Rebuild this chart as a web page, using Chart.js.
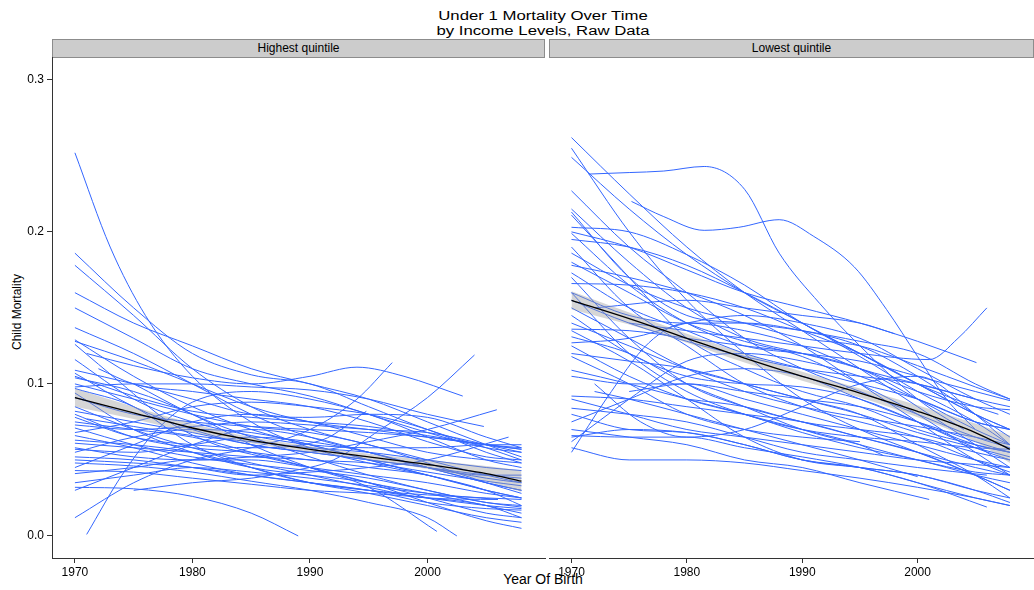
<!DOCTYPE html>
<html>
<head>
<meta charset="utf-8">
<script src="https://cdn.jsdelivr.net/npm/chart.js@4/dist/chart.umd.min.js"></script>
<style>
  html,body{margin:0;padding:0;background:#fff;}
  body{width:1034px;height:590px;position:relative;overflow:hidden;font-family:"Liberation Sans",Arial,sans-serif;color:#000;}
  .abs{position:absolute;}
  .title{left:343px;width:400px;text-align:center;font-size:12.5px;line-height:15px;transform:scaleX(1.34);transform-origin:50% 50%;white-space:nowrap;}
  .strip{top:39px;height:17px;background:#cccccc;border:1px solid #8c8c8c;box-sizing:content-box;text-align:center;font-size:12px;line-height:17px;}
  canvas{position:absolute;top:0;}
  .gap{position:absolute;left:545px;width:4px;top:57px;height:499px;background:#fff;z-index:5;}
</style>
</head>
<body>
<div class="abs title" style="top:9px;">Under 1 Mortality Over Time</div>
<div class="abs title" style="top:24px;">by Income Levels, Raw Data</div>
<div class="abs strip" style="left:52px;width:491px;">Highest quintile</div>
<div class="abs strip" style="left:549px;width:483px;">Lowest quintile</div>
<div class="abs" style="left:343px;width:400px;top:572px;text-align:center;font-size:14px;line-height:15px;">Year Of Birth</div>
<div class="abs" style="left:-33px;top:305px;width:100px;text-align:center;font-size:12px;line-height:14px;transform:rotate(-90deg);">Child Mortality</div>
<canvas id="cHigh" width="546" height="590" style="left:0;width:546px;height:590px;"></canvas>
<canvas id="cLow" width="488" height="590" style="left:546px;width:488px;height:590px;"></canvas>
<div class="gap"></div>
<script>
// ---- data ----
const panels = ["Highest quintile", "Lowest quintile"];
const xTicks = [1970, 1980, 1990, 2000];
const yTicks = [0.0, 0.1, 0.2, 0.3];

// raw country trajectories: [year, under-1 mortality]
const highestQuintile = [
  [[1970,.252],[1973,.19],[1976,.145],[1980,.105],[1985,.075],[1990,.058],[1995,.048],[2000,.04]],
  [[1970,.186],[1975,.15],[1980,.12],[1985,.106],[1990,.1],[1995,.085],[2000,.07],[2005,.058],[2008,.05]],
  [[1970,.178],[1975,.145],[1980,.11],[1985,.085],[1990,.07],[1995,.06],[2000,.05],[2005,.04],[2008,.035]],
  [[1970,.160],[1975,.14],[1980,.125],[1985,.11],[1990,.1],[1995,.09],[2000,.075],[2005,.06],[2008,.052]],
  [[1970,.150],[1975,.13],[1980,.11],[1985,.1],[1990,.092],[1995,.08],[2000,.068],[2005,.058],[2008,.055]],
  [[1970,.137],[1975,.12],[1980,.1],[1985,.08],[1990,.065],[1995,.055],[2000,.045],[2005,.035],[2008,.03]],
  [[1970,.129],[1975,.105],[1980,.085],[1985,.07],[1990,.06],[1995,.05],[2000,.04],[2005,.03],[2008,.025]],
  [[1970,.126],[1974,.1],[1978,.075],[1982,.06],[1986,.052],[1990,.045],[1995,.035],[2000,.028],[2005,.02],[2008,.015]],
  [[1971,.12],[1975,.112],[1980,.104],[1985,.1],[1990,.105],[1994,.111],[1998,.105],[2003,.092]],
  [[1970,.109],[1975,.1],[1980,.09],[1985,.08],[1990,.078],[1995,.08],[2000,.078],[2005,.065],[2008,.058]],
  [[1970,.107],[1975,.085],[1980,.07],[1985,.06],[1990,.055],[1995,.05],[2000,.045],[2005,.038],[2008,.035]],
  [[1970,.100],[1975,.09],[1980,.08],[1985,.072],[1990,.068],[1995,.06],[2000,.048],[2005,.035],[2008,.028]],
  [[1970,.094],[1975,.07],[1980,.055],[1985,.045],[1990,.04],[1995,.035],[2000,.025],[2005,.015],[2008,.012]],
  [[1970,.098],[1975,.1],[1980,.1],[1985,.098],[1990,.096],[1995,.09],[2000,.08],[2004.8,.072]],
  [[1970,.082],[1975,.075],[1980,.068],[1985,.06],[1990,.055],[1995,.05],[2000,.045],[2005,.04],[2008,.038]],
  [[1970,.073],[1975,.07],[1980,.072],[1985,.075],[1990,.073],[1995,.07],[2000,.068],[2005,.06],[2008,.055]],
  [[1970,.068],[1975,.075],[1980,.085],[1985,.088],[1990,.085],[1995,.08],[2000,.07],[2005,.055],[2008,.048]],
  [[1970,.061],[1975,.058],[1980,.055],[1985,.052],[1990,.05],[1995,.045],[2000,.04],[2005,.03],[2008,.025]],
  [[1970,.055],[1975,.065],[1980,.07],[1985,.068],[1990,.06],[1995,.05],[2000,.04],[2005,.03],[2008,.02]],
  [[1970,.050],[1975,.048],[1980,.045],[1985,.04],[1990,.035],[1995,.03],[2000,.025],[2005,.02],[2008,.018]],
  [[1970,.045],[1975,.06],[1980,.075],[1985,.08],[1990,.075],[1995,.065],[2000,.055],[2005,.05],[2008,.048]],
  [[1970,.041],[1975,.045],[1980,.05],[1985,.05],[1990,.045],[1995,.04],[2000,.035],[2005,.028],[2008,.025]],
  [[1970,.035],[1975,.04],[1980,.045],[1985,.042],[1990,.038],[1995,.033],[2000,.028],[2006,.024]],
  [[1970,.032],[1975,.031],[1980,.026],[1985,.015],[1989,.0]],
  [[1970,.012],[1975,.035],[1980,.05],[1985,.058],[1990,.07],[1994,.09],[1997,.114]],
  [[1971,.001],[1974,.04],[1977,.07],[1980,.088],[1985,.095],[1990,.09],[1995,.08],[2000,.065],[2005,.05],[2008,.045]],
  [[1975,.03],[1980,.035],[1985,.038],[1988,.042],[1992,.05],[1996,.07],[2000,.091],[2004,.119]],
  [[1970,.116],[1975,.09],[1980,.075],[1985,.066],[1990,.06],[1995,.058],[2000,.058],[2005,.06],[2008,.06]],
  [[1970,.078],[1975,.065],[1980,.06],[1985,.058],[1991,.063],[1994.8,.082]],
  [[1970,.058],[1975,.052],[1980,.05],[1985,.052],[1990,.055],[1995,.062],[2000,.07],[2005.9,.083]],
  [[1970,.052],[1975,.05],[1980,.045],[1985,.04],[1990,.042],[1995,.045],[2000,.05],[2006.9,.065]],
  [[1970,.085],[1975,.07],[1980,.058],[1985,.048],[1990,.04],[1995,.032],[2000,.025],[2006,.024]],
  [[1970,.063],[1975,.06],[1980,.055],[1985,.045],[1990,.035],[1995,.028],[2000,.02],[2005,.012],[2008,.009]],
  [[1970,.048],[1975,.046],[1980,.042],[1985,.036],[1990,.03],[1995,.022],[2000,.012],[2002.5,.0]],
  [[1970,.104],[1975,.095],[1980,.08],[1985,.06],[1990,.045],[1995,.032],[2000.8,.003]],
  [[1970,.075],[1975,.07],[1980,.065],[1985,.055],[1990,.045],[1995,.035],[2000,.022],[2005,.01],[2008,.005]],
  [[1970,.091],[1975,.08],[1980,.075],[1985,.072],[1990,.07],[1995,.068],[2000,.065],[2005,.06],[2008,.058]],
  [[1972,.11],[1975,.1],[1980,.095],[1985,.09],[1990,.085],[1995,.075],[2000,.062],[2005,.052],[2008,.05]],
  [[1970,.097],[1975,.085],[1980,.06],[1985,.045],[1990,.035],[1995,.03],[2000,.027],[2005,.025],[2008,.024]],
  [[1970,.057],[1975,.055],[1980,.06],[1985,.065],[1990,.062],[1995,.055],[2000,.045],[2005,.035],[2008,.03]],
  [[1970,.066],[1975,.058],[1980,.048],[1985,.04],[1990,.035],[1995,.03],[2000,.022],[2005,.018],[2008,.017]],
  [[1975,.1],[1980,.08],[1985,.065],[1990,.052],[1995,.04],[2000,.03],[2005,.022],[2008,.019]],
  [[1970,.043],[1975,.042],[1980,.038],[1985,.034],[1990,.03],[1995,.028],[2000,.025],[2005,.02],[2008,.012]],
  [[1970,.128],[1975,.115],[1980,.1],[1985,.085],[1990,.075],[1995,.07],[2000,.065],[2005,.06],[2008,.057]],
  [[1970,.080],[1975,.065],[1980,.058],[1985,.055],[1990,.05],[1995,.048],[2000,.042],[2005,.036],[2008,.033]],
  [[1970,.071],[1975,.06],[1980,.052],[1985,.047],[1990,.043],[1995,.038],[2000,.03],[2005,.022],[2008,.02]],
  [[1971,.077],[1975,.072],[1980,.066],[1985,.062],[1990,.058],[1995,.055],[2000,.05],[2005,.045],[2008,.043]],
  [[1970,.105],[1975,.092],[1980,.082],[1985,.078],[1990,.075],[1995,.072],[2000,.066],[2005,.06],[2008,.057]],
  [[1970,.03],[1975,.045],[1980,.06],[1985,.07],[1990,.065],[1995,.055],[2000,.045],[2005,.04],[2008,.04]]
];

const lowestQuintile = [
  [[1970,.262],[1975,.225],[1980,.19],[1985,.16],[1990,.135],[1995,.11],[2000,.085],[2005,.06],[2008,.045]],
  [[1970,.255],[1975,.2],[1980,.155],[1985,.12],[1990,.09],[1995,.07],[2000,.055],[2005,.04],[2008,.03]],
  [[1970,.249],[1975,.215],[1980,.185],[1985,.16],[1990,.14],[1995,.12],[2000,.1],[2005,.08],[2008,.07]],
  [[1971.5,.238],[1975,.239],[1978,.240],[1981.5,.243],[1985,.228],[1988,.186],[1991.5,.153],[1995,.125],[2000,.09],[2004,.07]],
  [[1975.2,.22],[1978,.21],[1981.5,.201],[1984.5,.203],[1988,.208],[1991,.197],[1994.5,.177],[1997.3,.149],[2000,.118],[2002.5,.09],[2005,.07]],
  [[1970,.227],[1975,.19],[1980,.16],[1985,.13],[1990,.11],[1995,.095],[2000,.08],[2005,.065],[2008,.058]],
  [[1970,.215],[1975,.18],[1980,.15],[1985,.13],[1990,.12],[1995,.11],[2000,.095],[2005,.085],[2008,.083]],
  [[1970,.211],[1975,.17],[1980,.13],[1985,.11],[1990,.095],[1995,.085],[2000,.07],[2005,.06],[2008,.055]],
  [[1970,.203],[1975,.2],[1980,.185],[1985,.165],[1990,.14],[1995,.12],[2000,.1],[2005,.085],[2007,.08]],
  [[1970,.199],[1975,.165],[1980,.14],[1985,.125],[1990,.12],[1995,.115],[2000,.105],[2005,.095],[2008,.089]],
  [[1970,.195],[1975,.19],[1980,.178],[1985,.16],[1990,.14],[1995,.118],[2000,.095],[2005,.075],[2008,.06]],
  [[1970,.190],[1975,.15],[1980,.125],[1985,.1],[1990,.085],[1995,.075],[2000,.065],[2005,.05],[2008,.042]],
  [[1970,.180],[1975,.16],[1980,.14],[1985,.128],[1990,.118],[1995,.1],[2000,.08],[2005,.055],[2008,.04]],
  [[1970,.170],[1975,.13],[1980,.1],[1985,.085],[1990,.075],[1995,.065],[2000,.055],[2005,.04],[2008,.03]],
  [[1970,.166],[1975,.165],[1980,.16],[1985,.15],[1990,.135],[1995,.12],[2000,.1],[2005,.08],[2008,.07]],
  [[1970,.160],[1975,.145],[1980,.14],[1985,.14],[1990,.135],[1995,.125],[2000,.105],[2005,.08],[2008,.065]],
  [[1970,.136],[1975,.135],[1980,.13],[1985,.125],[1990,.12],[1995,.11],[2000,.09],[2005,.07],[2008,.06]],
  [[1970,.131],[1975,.12],[1980,.1],[1985,.085],[1990,.07],[1995,.06],[2000,.05],[2005,.042],[2008,.04]],
  [[1970,.127],[1975,.13],[1980,.14],[1985,.145],[1990,.14],[1995,.13],[2000,.11],[2005,.09],[2008,.08]],
  [[1970,.120],[1975,.115],[1980,.11],[1985,.1],[1990,.09],[1995,.08],[2000,.068],[2005,.058],[2008,.052]],
  [[1970,.109],[1975,.1],[1980,.09],[1985,.08],[1990,.068],[1995,.058],[2000,.05],[2005,.04],[2008,.035]],
  [[1970,.092],[1975,.09],[1980,.085],[1985,.08],[1990,.075],[1995,.065],[2000,.055],[2005,.045],[2008,.04]],
  [[1970,.084],[1975,.08],[1980,.075],[1985,.065],[1990,.055],[1995,.05],[2000,.045],[2006,.04]],
  [[1970,.080],[1975,.07],[1980,.068],[1985,.06],[1990,.05],[1995,.045],[2000,.04],[2005,.03],[2008,.025]],
  [[1970,.065],[1975,.07],[1980,.068],[1985,.06],[1990,.05],[1995,.045],[2000,.035],[2005,.025],[2008,.02]],
  [[1970,.062],[1975,.09],[1980,.115],[1985,.12],[1990,.115],[1995,.105],[2000,.09],[2005,.075],[2008,.07]],
  [[1970,.055],[1973,.09],[1976.7,.127],[1980,.14],[1985,.135],[1990,.125],[1995,.11],[2000,.1],[2005,.09]],
  [[1975,.14],[1980,.135],[1985,.13],[1990,.125],[1995,.12],[2001,.116],[2003.5,.13],[2006,.15]],
  [[1970,.173],[1975,.15],[1980,.135],[1985,.12],[1990,.11],[1995,.1],[2000,.09],[2005,.075],[2008,.07]],
  [[1970,.155],[1975,.14],[1980,.128],[1985,.118],[1990,.11],[1995,.105],[2000,.1],[2005,.09],[2008,.085]],
  [[1970,.14],[1975,.125],[1980,.11],[1985,.1],[1990,.09],[1995,.08],[2000,.06],[2005,.04],[2008,.025]],
  [[1972,.15],[1980,.155],[1985,.15],[1990,.145],[1995,.14],[1998,.133]],
  [[1970,.125],[1975,.105],[1980,.09],[1985,.08],[1990,.07],[1995,.06],[1997,.053]],
  [[1970,.118],[1975,.1],[1980,.08],[1985,.07],[1990,.065],[1995,.062]],
  [[1972,.095],[1975,.09],[1980,.08],[1985,.07],[1990,.06],[1995,.05],[2000,.039]],
  [[1970,.070],[1975,.065],[1980,.06],[1985,.05],[1990,.045],[1995,.035],[2001,.024]],
  [[1970,.066],[1975,.065],[1980,.065],[1985,.058],[1990,.052],[1995,.045],[2000,.035],[2006,.019]],
  [[1970,.058],[1975,.05],[1980,.05],[1985,.048],[1990,.043],[1995,.038],[2000,.032],[2005,.025],[2008,.02]],
  [[1972,.1],[1976,.075],[1980,.065],[1985,.07],[1990,.085],[1995,.1],[2000,.105],[2005,.08],[2008,.06]],
  [[1970,.2],[1975,.19],[1980,.175],[1985,.16],[1990,.15],[1995,.14],[2000,.128],[2005.1,.114]],
  [[1970,.186],[1975,.165],[1980,.15],[1985,.14],[1990,.13],[1995,.125],[2000,.112],[2005,.098],[2008,.09]],
  [[1970,.145],[1975,.12],[1980,.105],[1985,.1],[1990,.098],[1995,.09],[2000,.075],[2005,.058],[2008,.05]],
  [[1970,.105],[1975,.1],[1980,.1],[1985,.095],[1990,.09],[1995,.085],[2000,.075],[2005,.062],[2008,.055]],
  [[1975,.095],[1980,.1],[1985,.09],[1990,.08],[1995,.07],[2000,.06],[2005,.05],[2008,.045]],
  [[1970,.213],[1975,.17],[1980,.145],[1985,.14],[1990,.135],[1995,.128],[2000,.12],[2005,.1],[2008,.09]],
  [[1970,.178],[1975,.17],[1980,.16],[1985,.145],[1990,.125],[1995,.1],[2000,.075],[2005,.05],[2008,.04]],
  [[1970,.15],[1975,.13],[1980,.11],[1985,.095],[1990,.085],[1995,.078],[2000,.072],[2005,.065],[2008,.06]],
  [[1970,.075],[1975,.09],[1980,.105],[1985,.11],[1990,.105],[1995,.09],[2000,.075],[2005,.06],[2008,.055]],
  [[1980,.09],[1985,.085],[1990,.075],[1995,.07],[2000,.065],[2005,.055],[2008,.05]],
  [[1970,.09],[1975,.08],[1980,.07],[1985,.065],[1990,.06],[1995,.055],[2000,.05],[2005,.047],[2008,.045]],
  [[1970,.16],[1975,.12],[1980,.095],[1985,.08],[1990,.07],[1995,.065],[2000,.062],[2005,.058],[2008,.057]],
  [[1970,.135],[1975,.115],[1980,.09],[1985,.065],[1990,.05],[1995,.045],[2000,.04],[2005,.03],[2008,.022]]
];

// smoothed fit with confidence band
const fitYears  = [1970, 1975, 1980, 1985, 1990, 1995, 2000, 2005, 2008];
const highFit   = [.091, .081, .071, .063, .057, .052, .047, .041, .036];
const highLower = [.085, .077, .068, .061, .055, .050, .044, .036, .029];
const highUpper = [.097, .085, .074, .065, .059, .054, .050, .046, .043];
const lowFit    = [.155, .143, .130, .117, .105, .094, .082, .068, .057];
const lowLower  = [.149, .139, .127, .114, .102, .091, .078, .062, .048];
const lowUpper  = [.161, .147, .133, .120, .108, .097, .086, .074, .066];

// ---- build ----
const BLUE = '#3366FF';
const FONT = {family: '"Liberation Sans", Arial, sans-serif', size: 12};
Chart.defaults.font = FONT;
Chart.defaults.color = '#000';

function pts(xs, ys) { return xs.map((x, i) => ({x: x, y: ys[i]})); }

function buildDatasets(lines, fit, lower, upper) {
  const ds = [];
  ds.push({data: pts(fitYears, fit), borderColor: '#000', borderWidth: 1.3, pointRadius: 0, fill: false, cubicInterpolationMode: 'monotone'});
  ds.push({data: pts(fitYears, upper), borderWidth: 0, borderColor: 'rgba(0,0,0,0)', pointRadius: 0, fill: false, cubicInterpolationMode: 'monotone'});
  ds.push({data: pts(fitYears, lower), borderWidth: 0, borderColor: 'rgba(0,0,0,0)', pointRadius: 0, fill: '-1', backgroundColor: 'rgba(153,153,153,0.4)', cubicInterpolationMode: 'monotone'});
  lines.forEach(l => ds.push({
    data: l.map(p => ({x: p[0], y: p[1]})),
    borderColor: BLUE, borderWidth: 1, pointRadius: 0, fill: false,
    cubicInterpolationMode: 'monotone'
  }));
  return ds;
}

function makeChart(id, lines, fit, lower, upper, showY, padLeft) {
  return new Chart(document.getElementById(id), {
    type: 'line',
    data: {datasets: buildDatasets(lines, fit, lower, upper)},
    options: {
      responsive: false, animation: false,
      layout: {padding: {top: 57, bottom: 0, left: padLeft, right: 1}},
      plugins: {legend: {display: false}, tooltip: {enabled: false}, title: {display: false}},
      scales: {
        x: {
          type: 'linear', min: 1968.05, max: 2010.0,
          afterBuildTicks: a => { a.ticks = xTicks.map(v => ({value: v})); },
          afterFit: a => { a.height = 32; },
          ticks: {padding: 2, maxRotation: 0, font: FONT, color: '#000', callback: v => String(v)},
          grid: {display: true, drawOnChartArea: false, drawTicks: true, tickLength: 5, tickColor: '#333'},
          border: {display: true, color: '#333', width: 1}
        },
        y: {
          display: showY,
          min: -0.0145, max: 0.315,
          afterBuildTicks: a => { a.ticks = yTicks.map(v => ({value: v})); },
          afterFit: a => { if (showY) a.width = 52; },
          ticks: {display: showY, padding: 3, font: FONT, color: '#000', callback: v => Number(v).toFixed(1)},
          grid: {display: showY, drawOnChartArea: false, drawTicks: showY, tickLength: 5, tickColor: '#333'},
          border: {display: showY, color: '#333', width: 1}
        }
      }
    }
  });
}

makeChart('cHigh', highestQuintile, highFit, highLower, highUpper, true, 0);
makeChart('cLow', lowestQuintile, lowFit, lowLower, lowUpper, false, 3);
</script>
</body>
</html>
